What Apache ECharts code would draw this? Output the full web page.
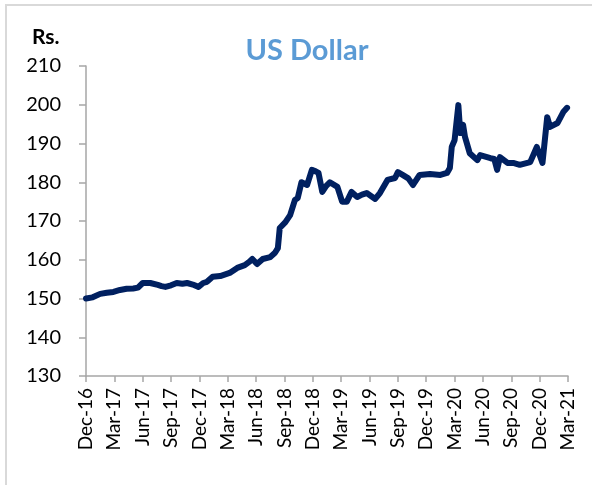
<!DOCTYPE html>
<html>
<head>
<meta charset="utf-8">
<title>US Dollar</title>
<script src="https://cdn.jsdelivr.net/npm/echarts@6/dist/echarts.min.js"></script>
<style>
  html, body { margin: 0; padding: 0; background: #fff; }
  #chart { width: 592px; height: 485px; }
</style>
</head>
<body>
<div id="chart"></div>
<script>
// quarterly tick labels, one every 3 months starting Dec-16
const quarterLabels = [
  "Dec-16", "Mar-17", "Jun-17", "Sep-17", "Dec-17", "Mar-18", "Jun-18", "Sep-18", "Dec-18",
  "Mar-19", "Jun-19", "Sep-19", "Dec-19", "Mar-20", "Jun-20", "Sep-20", "Dec-20", "Mar-21"
];

// months elapsed since Dec-16
const months = [
  0, 0.7, 1.5, 2.2, 2.9, 3.6, 4.3, 5.0, 5.5, 6.0, 6.8, 7.6, 8.0, 8.4, 9.0, 9.6, 10.2, 10.7,
  11.3, 11.9, 12.4, 12.8, 13.4, 14.2, 15.2, 16.0, 16.8, 17.3, 17.6, 18.1, 18.7, 19.5, 20.0,
  20.3, 20.5, 21.1, 21.6, 22.1, 22.4, 22.8, 23.4, 23.9, 24.3, 24.6, 25.0, 25.4, 25.8, 26.6,
  27.1, 27.6, 28.1, 28.7, 29.2, 29.7, 30.6, 31.1, 31.9, 32.7, 33.0, 33.5, 34.1, 34.6, 35.3,
  36.4, 37.5, 38.2, 38.5, 38.7, 39.0, 39.4, 39.6, 39.9, 40.1, 40.6, 41.4, 41.7, 42.8, 43.2,
  43.5, 43.8, 44.6, 45.2, 45.9, 47.0, 47.7, 48.3, 48.8, 49.1, 49.9, 50.5, 50.9
];

// Rs. per US dollar
const usdRate = [
  150.0, 150.3, 151.2, 151.5, 151.7, 152.2, 152.5, 152.6, 152.8, 154.0, 154.0, 153.5, 153.2, 153.0, 153.4, 154.0, 153.8, 154.0,
  153.6, 153.0, 154.0, 154.3, 155.6, 155.8, 156.6, 157.9, 158.6, 159.5, 160.2, 158.9, 160.2, 160.7, 161.8,
  163.0, 168.2, 169.7, 171.5, 175.4, 175.9, 180.0, 179.3, 183.2, 182.8, 182.4, 177.5, 179.0, 180.0, 178.8,
  175.0, 175.0, 177.5, 176.2, 176.8, 177.2, 175.7, 177.2, 180.6, 181.1, 182.6, 181.9, 181.0, 179.3, 181.9,
  182.1, 181.9, 182.4, 183.7, 189.1, 190.9, 199.9, 192.7, 194.8, 191.7, 187.5, 185.7, 187.0, 186.2, 186.0,
  183.2, 186.5, 185.0, 185.0, 184.5, 185.2, 189.1, 185.0, 196.8, 194.3, 195.3, 198.1, 199.2
];

const lineData = months.map((m, i) => [m, usdRate[i]]);

const chart = echarts.init(document.getElementById("chart"), null, { renderer: "canvas" });

const font = "Lato, 'Open Sans', sans-serif";

const option = {
  animation: false,
  backgroundColor: "#fff",
  textStyle: { fontFamily: font },
  title: {
    text: "US Dollar",
    left: 302,
    top: 31,
    textAlign: "center",
    textStyle: { fontFamily: font, fontSize: 29, fontWeight: "bold", color: "#5B9BD5" }
  },
  graphic: [
    // frame: only the top and left edges are visible
    {
      type: "line",
      shape: { x1: 5, y1: 5, x2: 592, y2: 5 },
      style: { stroke: "#d9d9d9", lineWidth: 2 }
    },
    {
      type: "line",
      shape: { x1: 6, y1: 5, x2: 6, y2: 485 },
      style: { stroke: "#d9d9d9", lineWidth: 2 }
    },
    {
      type: "text",
      left: 32,
      top: 27,
      style: { text: "Rs.", font: "bold 21px " + font, fill: "#000" }
    }
  ],
  grid: { left: 86, right: 24, top: 66, bottom: 109 },
  xAxis: {
    type: "value",
    min: 0,
    max: 51,
    interval: 3,
    splitLine: { show: false },
    axisLine: { lineStyle: { color: "#a6a6a6", width: 1.5 } },
    axisTick: { show: true, length: 6, lineStyle: { color: "#a6a6a6", width: 1.5 } },
    axisLabel: {
      rotate: 90,
      margin: 12,
      fontSize: 19,
      color: "#000",
      fontFamily: font,
      formatter: v => quarterLabels[Math.round(v / 3)] || ""
    }
  },
  yAxis: {
    type: "value",
    min: 130,
    max: 210,
    interval: 10,
    splitLine: { show: false },
    axisLine: { show: true, lineStyle: { color: "#a6a6a6", width: 1.5 } },
    axisTick: { show: true, length: 7, lineStyle: { color: "#a6a6a6", width: 1.5 } },
    axisLabel: { margin: 25, fontSize: 20, color: "#000", fontFamily: font }
  },
  series: [
    {
      name: "US Dollar",
      type: "line",
      data: lineData,
      showSymbol: false,
      lineStyle: { color: "#002060", width: 6, join: "round", cap: "round" }
    }
  ]
};

chart.setOption(option);
</script>
</body>
</html>
